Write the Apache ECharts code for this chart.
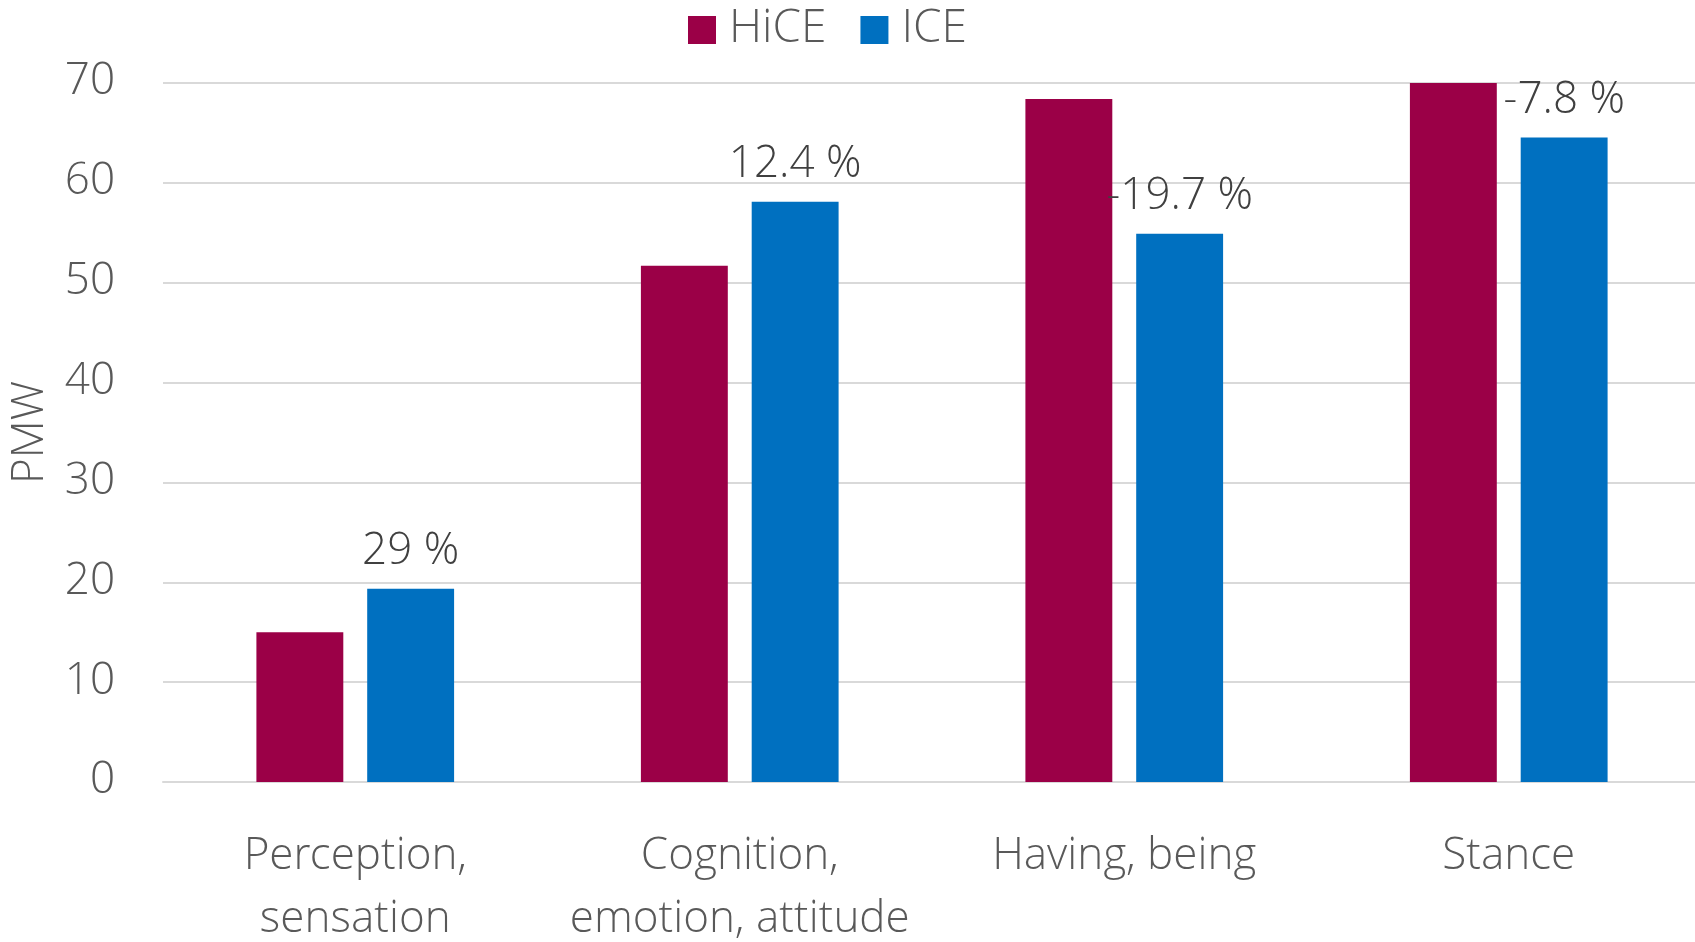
<!DOCTYPE html>
<html>
<head>
<meta charset="utf-8">
<script src="https://cdn.jsdelivr.net/npm/echarts@6/dist/echarts.min.js"></script>
<style>
  html, body { margin: 0; padding: 0; background: #fff; }
  #chart { width: 1695px; height: 942px; }
</style>
</head>
<body>
<div id="chart"></div>
<script>
// Process-type categories (x axis)
const categories = ['Perception,\nsensation', 'Cognition,\nemotion, attitude', 'Having, being', 'Stance'];
// Frequencies per million words
const hiceValues = [15.0, 51.7, 68.4, 70.0];
const iceValues = [19.35, 58.1, 54.9, 64.55];
// Relative change from HiCE to ICE, printed above the ICE bars
const changeLabels = ['29 %', '12.4 %', '-19.7 %', '-7.8 %'];
// Value axis ticks
const yTicks = [0, 10, 20, 30, 40, 50, 60, 70];

const FONT = '"Open Sans Light", "Lato Light", "Open Sans", sans-serif';
const TEXT = '#595959';

const chart = echarts.init(document.getElementById('chart'), null, { renderer: 'canvas' });

chart.setOption({
  animation: false,
  textStyle: { fontFamily: FONT, color: TEXT },
  legend: {
    data: ['HiCE', 'ICE'],
    left: 683,
    top: 2,
    itemWidth: 28,
    itemHeight: 28,
    itemGap: 34,
    icon: 'rect',
    textStyle: { fontFamily: FONT, fontSize: 46, fontWeight: 300, color: TEXT, padding: [0, 0, 0, 8] }
  },
  grid: { left: 163, right: -6, top: 83, bottom: 160, containLabel: false, outerBoundsMode: 'none' },
  xAxis: {
    type: 'category',
    data: categories,
    axisLine: { show: true, lineStyle: { color: '#D9D9D9', width: 2 } },
    axisTick: { show: false },
    axisLabel: {
      margin: 44,
      fontFamily: FONT,
      fontSize: 44,
      fontWeight: 300,
      lineHeight: 63,
      color: TEXT,
      interval: 0
    }
  },
  yAxis: {
    type: 'value',
    min: yTicks[0],
    max: yTicks[yTicks.length - 1],
    interval: yTicks[1] - yTicks[0],
    name: 'PMW',
    nameLocation: 'middle',
    nameGap: 98,
    nameRotate: 90,
    nameTextStyle: { fontFamily: FONT, fontSize: 44, fontWeight: 300, color: TEXT },
    axisLine: { show: false },
    axisTick: { show: false },
    axisLabel: { margin: 48, fontFamily: FONT, fontSize: 44, fontWeight: 300, color: TEXT },
    splitLine: { lineStyle: { color: '#D9D9D9', width: 2 } }
  },
  series: [
    {
      name: 'HiCE',
      type: 'bar',
      data: hiceValues,
      barWidth: '22.6%',
      barGap: '27.5%',
      itemStyle: { color: '#9B0047' }
    },
    {
      name: 'ICE',
      type: 'bar',
      data: iceValues,
      barWidth: '22.6%',
      itemStyle: { color: '#0070C0' },
      label: {
        show: true,
        position: 'top',
        distance: 14,
        fontFamily: FONT,
        fontSize: 44,
        fontWeight: 300,
        color: '#404040',
        formatter: p => changeLabels[p.dataIndex]
      }
    }
  ]
});
</script>
</body>
</html>
